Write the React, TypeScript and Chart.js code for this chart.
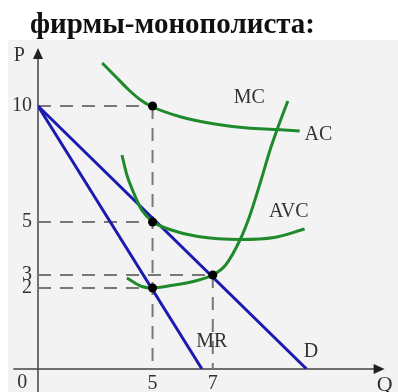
import React, { useEffect, useRef } from 'react';
import { Chart, registerables } from 'chart.js';

Chart.register(...registerables);

const titleText = 'фирмы-монополиста:';

// Schematic drawing units (the original chart is not to scale)
const qTickPos = [11.6, 17.7];
const qTickLabels = ['5', '7'];
const pTickPos = [26.3, 14.7, 9.4, 8.1];
const pTickLabels = ['10', '5', '3', '2'];

const dQ = [0, 27.2];
const dP = [26.3, 0];
const mrQ = [0, 16.6];
const mrP = [26.3, 0];
const acQ = [6.5, 7.9, 9.2, 10.4, 11.5, 14.5, 17.9, 21.2, 24.2, 26.5];
const acP = [30.6, 29.2, 27.9, 26.9, 26.25, 25.2, 24.5, 24.1, 23.95, 23.8];
const avcQ = [8.5, 9.0, 9.7, 10.5, 11.6, 13.5, 16.2, 20.5, 23.9, 27.0];
const avcP = [21.4, 19.4, 17.6, 15.9, 14.75, 13.9, 13.25, 12.95, 13.15, 14.0];
const mcQ = [9.0, 10.5, 11.6, 13.5, 15.9, 17.7, 19.0, 20.5, 21.4, 22.5, 23.5, 24.2, 25.3];
const mcP = [9.1, 8.25, 8.1, 8.35, 8.8, 9.4, 10.4, 13.0, 15.2, 18.6, 21.9, 23.9, 26.8];
const dotQ = [11.6, 11.6, 11.6, 17.7];
const dotP = [26.3, 14.7, 8.1, 9.4];

const hGuideP = [26.3, 14.7, 9.4, 8.1];
const hGuideToQ = [11.6, 11.6, 17.7, 11.6];
const vGuideQ = [11.6, 17.7];
const vGuideFromP = [26.3, 9.4];

const textLabels = ['P', 'Q', '0', 'MC', 'AC', 'AVC', 'MR', 'D'];
const textAnchorQ = [-1.9, 35.1, -1.6, 21.4, 28.4, 25.4, 17.6, 27.65];
const textAnchorP = [31.3, -1.6, -1.35, 27.1, 23.4, 15.7, 2.75, 1.75];
const textSizes = [20, 22, 20, 20, 20, 20, 20, 20];

const FONT = "'Liberation Serif', 'Times New Roman', serif";
const GREEN = '#1f8a2c';
const BLUE = '#1a1ab0';
const GUIDE = '#777777';

const pts = (xs: number[], ys: number[]) => xs.map((x, i) => ({ x, y: ys[i] }));

const decor = {
  id: 'decor',
  beforeDraw(chart: any) {
    const ctx = chart.ctx;
    ctx.save();
    ctx.fillStyle = '#ffffff';
    ctx.fillRect(0, 0, chart.width, chart.height);
    ctx.fillStyle = '#f3f3f3';
    ctx.fillRect(8, 40, chart.width - 8, chart.height - 40);
    ctx.fillStyle = '#111111';
    ctx.font = `bold 29px ${FONT}`;
    ctx.textAlign = 'left';
    ctx.textBaseline = 'alphabetic';
    ctx.fillText(titleText, 30, 33);
    ctx.restore();
  },
  beforeDatasetsDraw(chart: any) {
    const ctx = chart.ctx;
    const xs = chart.scales.x;
    const ys = chart.scales.y;
    const x0 = xs.getPixelForValue(0);
    const y0 = ys.getPixelForValue(0);
    const yTip = ys.getPixelForValue(32.1);
    const xTip = xs.getPixelForValue(35.1);
    const xStart = xs.getPixelForValue(-2.5);
    ctx.save();
    ctx.strokeStyle = '#444444';
    ctx.fillStyle = '#222222';
    ctx.lineWidth = 1.5;
    ctx.beginPath();
    ctx.moveTo(x0, chart.height);
    ctx.lineTo(x0, yTip + 4);
    ctx.moveTo(xStart, y0);
    ctx.lineTo(xTip - 4, y0);
    ctx.stroke();
    ctx.beginPath();
    ctx.moveTo(x0, yTip);
    ctx.lineTo(x0 - 5, yTip + 11);
    ctx.lineTo(x0 + 5, yTip + 11);
    ctx.closePath();
    ctx.fill();
    ctx.beginPath();
    ctx.moveTo(xTip, y0);
    ctx.lineTo(xTip - 11, y0 - 5);
    ctx.lineTo(xTip - 11, y0 + 5);
    ctx.closePath();
    ctx.fill();
    ctx.restore();
  },
  afterDatasetsDraw(chart: any) {
    const ctx = chart.ctx;
    const xs = chart.scales.x;
    const ys = chart.scales.y;
    ctx.save();
    ctx.fillStyle = '#333333';
    ctx.textAlign = 'center';
    ctx.textBaseline = 'middle';
    textLabels.forEach((t, i) => {
      ctx.font = `${textSizes[i]}px ${FONT}`;
      ctx.fillText(t, xs.getPixelForValue(textAnchorQ[i]), ys.getPixelForValue(textAnchorP[i]));
    });
    ctx.restore();
  },
};

export default function App() {
  const ref = useRef<HTMLCanvasElement | null>(null);
  useEffect(() => {
    if (!ref.current) return;
    const guideStyle = {
      borderColor: GUIDE,
      borderWidth: 2,
      borderDash: [13, 9],
      pointRadius: 0,
      fill: false,
      order: 5,
    };
    const guides = [
      ...hGuideP.map((p, i) => ({
        ...guideStyle,
        data: [{ x: 0, y: p }, { x: hGuideToQ[i], y: p }],
      })),
      ...vGuideQ.map((q, i) => ({
        ...guideStyle,
        data: [{ x: q, y: vGuideFromP[i] }, { x: q, y: 0 }],
      })),
    ];
    const curve = (xs: number[], ys: number[], color: string, order: number) => ({
      data: pts(xs, ys),
      borderColor: color,
      borderWidth: 3,
      pointRadius: 0,
      fill: false,
      cubicInterpolationMode: 'monotone' as const,
      order,
    });
    const chart = new Chart(ref.current, {
      type: 'line',
      data: {
        datasets: [
          {
            data: pts(dotQ, dotP),
            showLine: false,
            pointRadius: 4.5,
            pointBackgroundColor: '#000000',
            pointBorderColor: '#000000',
            pointBorderWidth: 0,
            order: 0,
          } as any,
          curve(acQ, acP, GREEN, 2),
          curve(avcQ, avcP, GREEN, 2),
          curve(mcQ, mcP, GREEN, 2),
          curve(dQ, dP, BLUE, 3),
          curve(mrQ, mrP, BLUE, 3),
          ...guides,
        ],
      },
      options: {
        responsive: false,
        animation: false,
        layout: { padding: { top: 39, left: 0, right: 0, bottom: 0 } },
        plugins: {
          legend: { display: false },
          tooltip: { enabled: false },
          title: { display: false },
        },
        events: [],
        scales: {
          x: {
            type: 'linear',
            min: 0,
            max: 36,
            grid: { display: false, drawTicks: false },
            border: { display: false },
            afterBuildTicks: (s: any) => {
              s.ticks = qTickPos.map((v) => ({ value: v }));
            },
            afterFit: (s: any) => {
              s.height = 23;
            },
            ticks: {
              autoSkip: false,
              maxRotation: 0,
              padding: 3,
              color: '#333333',
              font: { family: FONT, size: 20 },
              callback: (_v: any, i: number) => qTickLabels[i],
            },
          },
          y: {
            type: 'linear',
            min: 0,
            max: 33,
            grid: { display: false, drawTicks: false },
            border: { display: false },
            afterBuildTicks: (s: any) => {
              s.ticks = pTickPos.map((v) => ({ value: v }));
            },
            afterFit: (s: any) => {
              s.width = 38;
            },
            ticks: {
              autoSkip: false,
              padding: 6,
              color: '#333333',
              font: { family: FONT, size: 20 },
              callback: (_v: any, i: number) => pTickLabels[i],
            },
          },
        },
      } as any,
      plugins: [decor],
    });
    return () => chart.destroy();
  }, []);
  return (
    <div style={{ position: 'absolute', left: 0, top: 0, width: 398, height: 392 }}>
      <canvas ref={ref} width={398} height={392} style={{ display: 'block' }} />
    </div>
  );
}
